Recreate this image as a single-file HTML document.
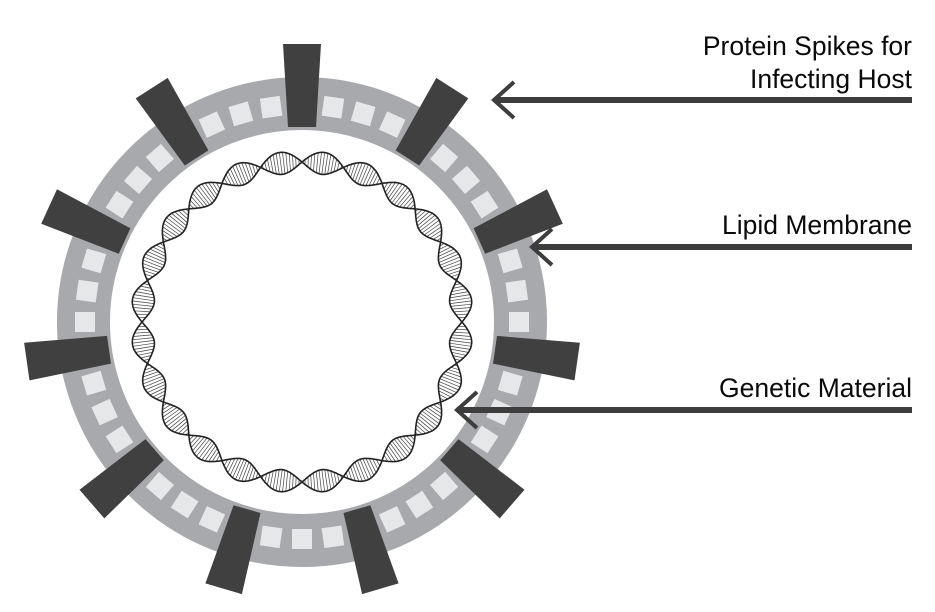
<!DOCTYPE html>
<html><head><meta charset="utf-8"><style>
html,body{margin:0;padding:0;background:#fff;width:935px;height:612px;overflow:hidden}
svg{display:block}
text{font-family:"Liberation Sans",sans-serif;font-size:26.5px;fill:#0a0a0a}
</style></head><body>
<svg id="s" width="935" height="612" viewBox="0 0 935 612">
<circle cx="302" cy="322" r="218.5" fill="none" stroke="#a7a9ac" stroke-width="53"/>
<g id="sq"></g>
<g id="sp"></g>
<g id="dna"></g>
<g stroke="#3d3d3d" fill="none">
<line x1="494" y1="100" x2="912" y2="100" stroke-width="6"/>
<polyline points="514,82 494,100 514,118" stroke-width="4"/>
<line x1="532" y1="247" x2="912" y2="247" stroke-width="6"/>
<polyline points="552,229 532,247 552,265" stroke-width="4"/>
<line x1="457" y1="410" x2="912" y2="410" stroke-width="6"/>
<polyline points="477,392 457,410 477,428" stroke-width="4"/>
</g>
<text x="912" y="55" text-anchor="end">Protein Spikes for</text>
<text x="912" y="88" text-anchor="end">Infecting Host</text>
<text x="912" y="234" text-anchor="end">Lipid Membrane</text>
<text x="912" y="397" text-anchor="end">Genetic Material</text>
</svg>
<script>
var NS="http://www.w3.org/2000/svg",cx=302,cy=322;
function el(p,t,a){var e=document.createElementNS(NS,t);for(var k in a)e.setAttribute(k,a[k]);p.appendChild(e);return e;}
var sq=document.getElementById('sq'),sp=document.getElementById('sp'),dna=document.getElementById('dna');
for(var i=0;i<44;i++){
 var ang=270+i*360/44;
 if(i%4==0){
  var r=ang*Math.PI/180;
  function pt(rad,off){var x=cx+rad*Math.cos(r)-off*Math.sin(r),y=cy+rad*Math.sin(r)+off*Math.cos(r);return x.toFixed(1)+","+y.toFixed(1);}
  el(sp,'polygon',{points:[pt(195,-14),pt(278,-19),pt(278,19),pt(195,14)].join(' '),fill:'#404040'});
 } else {
  el(sq,'rect',{x:-10,y:-10,width:20,height:20,fill:'#e6e7e8',transform:'translate('+cx+','+cy+') rotate('+(ang+90)+') translate(0,-217)'});
 }
}
var R=160,A=11,N=12,M=720,p1="",p2="",hatch="";
for(var j=0;j<=M;j++){
 var t=j/M*2*Math.PI,s=Math.sin(N*t)*A;
 var x1=cx+(R+s)*Math.cos(t),y1=cy+(R+s)*Math.sin(t),x2=cx+(R-s)*Math.cos(t),y2=cy+(R-s)*Math.sin(t);
 p1+=(j?"L":"M")+x1.toFixed(1)+","+y1.toFixed(1);
 p2+=(j?"L":"M")+x2.toFixed(1)+","+y2.toFixed(1);
}
var H=330;
for(var j=0;j<H;j++){
 var t=(j+0.5)/H*2*Math.PI,s=Math.sin(N*t)*A;
 if(Math.abs(s)<1.5)continue;
 var x1=cx+(R+s)*Math.cos(t),y1=cy+(R+s)*Math.sin(t),x2=cx+(R-s)*Math.cos(t),y2=cy+(R-s)*Math.sin(t);
 hatch+="M"+x1.toFixed(1)+","+y1.toFixed(1)+"L"+x2.toFixed(1)+","+y2.toFixed(1);
}
el(dna,'path',{d:hatch,stroke:'#444','stroke-width':0.7,fill:'none'});
el(dna,'path',{d:p1,stroke:'#222','stroke-width':1.6,fill:'none'});
el(dna,'path',{d:p2,stroke:'#222','stroke-width':1.6,fill:'none'});
</script>
</body></html>
